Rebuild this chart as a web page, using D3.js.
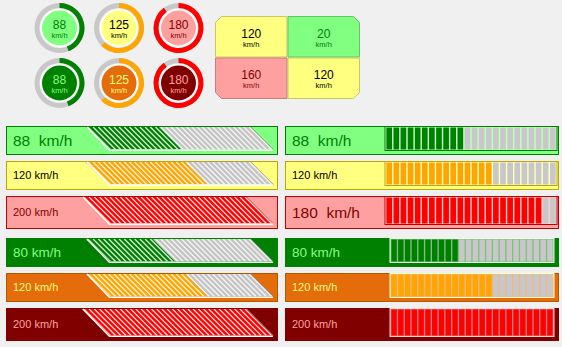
<!DOCTYPE html>
<html><head><meta charset="utf-8">
<script src="https://cdn.jsdelivr.net/npm/d3@7"></script>
<style>html,body{margin:0;padding:0;background:#f0f0f0;overflow:hidden}
text{font-family:"Liberation Sans",Arial,sans-serif}</style>
</head><body><svg id="c" width="562" height="347"></svg>
<script>
// ---------- data ----------
const unit = "km/h";
const maxValue = 200;
const gaugeValues = [88, 125, 180, 88, 125, 180];
const gridValues = [120, 20, 160, 120];
const hatchBarValues = [88, 120, 200, 80, 120, 200];
const segmentBarValues = [88, 120, 180, 80, 120, 200];
const segmentCount = 24;

// ---------- styles ----------
const themes = {
  lightGreen:  {fill:"#80ff80", text:"#008000", accent:"#008000", border:"#008000", seg:"#008000"},
  lightYellow: {fill:"#ffff80", text:"#000000", accent:"#ffa500", border:"#b8a800", seg:"#b8a800"},
  lightRed:    {fill:"#ffa0a0", text:"#800000", accent:"#ff0000", border:"#c00000", seg:"#c00000"},
  darkGreen:   {fill:"#008000", text:"#80ff80", accent:"#008000", border:"#008000", seg:"#e8ffe8"},
  darkOrange:  {fill:"#e46c0a", text:"#ffff80", accent:"#ffa500", border:"#b05a00", seg:"#ffffc0"},
  darkRed:     {fill:"#800000", text:"#ffa0a0", accent:"#ff0000", border:"#800000", seg:"#ffd0d0"}
};
const gaugeThemes = ["lightGreen","lightYellow","lightRed","darkGreen","darkOrange","darkRed"];
const gridThemes = ["lightYellow","lightGreen","lightRed","lightYellow"];
const barThemes = gaugeThemes;
const hatchFont = [15.5, 11, 11, 13.5, 11, 11];
const segFont = [15.5, 11, 15.5, 13.5, 11, 11];
const rowLayout = [[126,29],[161,29],[196,33],[238,29],[273,29],[308,33]];

const svg = d3.select("#c");
svg.append("rect").attr("width",562).attr("height",347).attr("fill","#f0f0f0");

// ---------- circular gauges ----------
const angle = d3.scaleLinear().domain([0, maxValue]).range([0, 2*Math.PI]);
const gx = [59.5, 119, 178.5], gy = [28, 83];
const ringArc = d3.arc().innerRadius(20).outerRadius(25);
gaugeValues.forEach((v,i) => {
  const t = themes[gaugeThemes[i]];
  const g = svg.append("g").attr("transform",`translate(${gx[i%3]},${gy[Math.floor(i/3)]})`);
  g.append("path").attr("d", ringArc({startAngle:0,endAngle:2*Math.PI})).attr("fill","#c8c8c8");
  g.append("path").attr("d", ringArc({startAngle:0,endAngle:angle(v)})).attr("fill",t.accent);
  g.append("circle").attr("r",18.3).attr("fill",t.fill).attr("stroke","#ffffff").attr("stroke-width",1.6);
  g.append("text").attr("text-anchor","middle").attr("y",0.8).attr("font-size",12).attr("fill",t.text).text(v);
  g.append("text").attr("text-anchor","middle").attr("y",9.8).attr("font-size",7.5).attr("fill",t.text).text(unit);
});

// ---------- 2x2 grid ----------
const gcx = d3.scaleBand().domain([0,1]).range([215,360]);
const gcy = d3.scaleBand().domain([0,1]).range([16,99]);
const cut = 6;
gridValues.forEach((v,i) => {
  const t = themes[gridThemes[i]];
  const c = i%2, r = Math.floor(i/2);
  const x0 = gcx(c)+0.5, x1 = gcx(c)+gcx.bandwidth()-0.5;
  const y0 = gcy(r)+0.5, y1 = gcy(r)+gcy.bandwidth()-0.5;
  const cl = c===0, top = r===0;
  const p = d3.path();
  // corners: tl, tr, br, bl ; cut only outer corner
  const cutTL = cl&&top, cutTR = !cl&&top, cutBR = !cl&&!top, cutBL = cl&&!top;
  p.moveTo(cutTL? x0+cut : x0, y0);
  if (cutTR) { p.lineTo(x1-cut,y0); p.lineTo(x1,y0+cut);} else p.lineTo(x1,y0);
  if (cutBR) { p.lineTo(x1,y1-cut); p.lineTo(x1-cut,y1);} else p.lineTo(x1,y1);
  if (cutBL) { p.lineTo(x0+cut,y1); p.lineTo(x0,y1-cut);} else p.lineTo(x0,y1);
  if (cutTL) { p.lineTo(x0,y0+cut);}
  p.closePath();
  svg.append("path").attr("d",p.toString()).attr("fill",t.fill)
     .attr("stroke",d3.color(t.fill).darker(0.7)).attr("stroke-width",1);
  const cx = (x0+x1)/2, cy = (y0+y1)/2;
  svg.append("text").attr("x",cx).attr("y",cy+0.8).attr("text-anchor","middle").attr("font-size",12).attr("fill",t.text).text(v);
  svg.append("text").attr("x",cx).attr("y",cy+10).attr("text-anchor","middle").attr("font-size",7.5).attr("fill",t.text).text(unit);
});

function label(x, cy, v, size, color) {
  const tx = svg.append("text").attr("x",x).attr("y",cy).attr("dy","0.36em").attr("font-size",size).attr("fill",color);
  if (size > 14) {
    tx.append("tspan").text(v);
    tx.append("tspan").attr("dx",size*0.55).text(unit);
  } else tx.text(v + " " + unit);
}

// ---------- hatched bars (left) ----------
const defs = svg.append("defs");
const hx = d3.scaleLinear().domain([0, maxValue]).range([110, 273]);
hatchBarValues.forEach((v,i) => {
  const t = themes[barThemes[i]];
  const [y,h] = rowLayout[i];
  svg.append("rect").attr("x",6.5).attr("y",y+0.5).attr("width",271).attr("height",h-1)
     .attr("fill",t.fill).attr("stroke",t.border).attr("stroke-width",1);
  const top = y+1, bot = y+h-5.5, hh = bot-top;
  const para = (a,b) => `M${hx(a)-hh},${top}L${hx(b)-hh},${top}L${hx(b)},${bot}L${hx(a)},${bot}Z`;
  const id = "clip"+i;
  defs.append("clipPath").attr("id",id).append("path").attr("d",para(0,maxValue));
  const g = svg.append("g").attr("clip-path",`url(#${id})`);
  g.append("path").attr("d",para(0,v)).attr("fill",t.accent);
  g.append("path").attr("d",para(v,maxValue)).attr("fill","#c4c4c4");
  const pitch = 5.2;
  const starts = d3.range(hx(0)-hh-10, hx(maxValue)+5, pitch);
  g.selectAll(null).data(starts).enter().append("line")
    .attr("x1",d=>d).attr("y1",top).attr("x2",d=>d+hh).attr("y2",bot)
    .attr("stroke","#ffffff").attr("stroke-width",1.3).attr("stroke-opacity",0.85);
  // edges
  svg.append("path").attr("d",`M${hx(0)-hh-1.6},${top}L${hx(0)-1.6},${bot}`).attr("stroke","#707070").attr("stroke-opacity",0.6).attr("stroke-width",1);
  svg.append("path").attr("d",`M${hx(0)-hh-0.6},${top}L${hx(0)-0.6},${bot+0.8}L${hx(maxValue)},${bot+0.8}`)
     .attr("fill","none").attr("stroke","#ffffff").attr("stroke-width",1.4);
  svg.append("path").attr("d",`M${hx(maxValue)-hh+0.5},${top}L${hx(maxValue)+0.5},${bot}`).attr("stroke","#808080").attr("stroke-opacity",0.6).attr("stroke-width",1);
  label(13, y+h/2, v, hatchFont[i], t.text);
});

// ---------- segmented bars (right) ----------
const segLevel = d3.scaleLinear().domain([0, maxValue]).range([0, segmentCount]);
segmentBarValues.forEach((v,i) => {
  const t = themes[barThemes[i]];
  const [y,h] = rowLayout[i];
  const dark = i >= 3;
  svg.append("rect").attr("x",285.5).attr("y",y+0.5).attr("width",273).attr("height",h-1)
     .attr("fill",t.fill).attr("stroke",t.border).attr("stroke-width",1);
  const x0 = dark ? 391 : 386, x1 = dark ? 553 : 556;
  const top = y+1.5, bot = y+h-5.5;
  svg.append("rect").attr("x",x0-1).attr("y",top-1).attr("width",x1-x0+2).attr("height",bot-top+2)
     .attr("fill","#ffffff").attr("fill-opacity",0.5)
     .attr("stroke",t.seg).attr("stroke-width",1);
  const sb = d3.scaleBand().domain(d3.range(segmentCount)).range([x0,x1]).paddingInner(0.2).paddingOuter(0.05);
  const n = Math.ceil(segLevel(v));
  svg.selectAll(null).data(d3.range(segmentCount)).enter().append("rect")
    .attr("x",d=>sb(d)).attr("y",top).attr("width",sb.bandwidth()).attr("height",bot-top)
    .attr("fill",d=> d < n ? t.accent : "#c8c8c8");
  label(292, y+h/2, v, segFont[i], t.text);
});
</script></body></html>
